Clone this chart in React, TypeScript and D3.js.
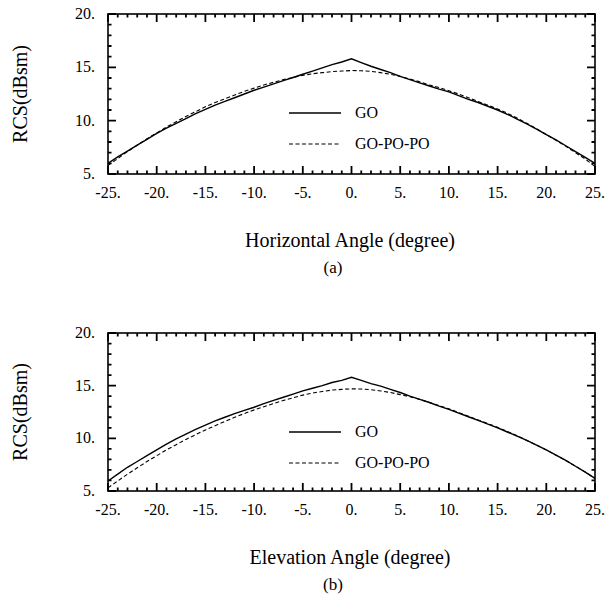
import React from "react";
import * as d3 from "d3";

const angles = [-25,-24,-23,-22,-21,-20,-19,-18,-17,-16,-15,-14,-13,-12,-11,-10,-9,-8,-7,-6,-5,-4,-3,-2,-1,0,1,2,3,4,5,6,7,8,9,10,11,12,13,14,15,16,17,18,19,20,21,22,23,24,25];

const horizGO = [6.0,6.6,7.15,7.7,8.25,8.8,9.3,9.75,10.2,10.65,11.05,11.45,11.8,12.15,12.5,12.85,13.15,13.45,13.75,14.05,14.35,14.65,14.95,15.25,15.5,15.8,15.45,15.1,14.8,14.5,14.15,13.85,13.55,13.25,12.95,12.7,12.35,12.0,11.7,11.35,11.0,10.6,10.15,9.7,9.2,8.7,8.2,7.65,7.1,6.55,6.0];
const horizGOPOPO = [5.8,6.45,7.1,7.7,8.3,8.85,9.4,9.9,10.4,10.85,11.3,11.7,12.05,12.4,12.75,13.05,13.35,13.6,13.85,14.05,14.25,14.4,14.5,14.6,14.65,14.7,14.68,14.62,14.5,14.35,14.15,13.9,13.65,13.35,13.1,12.8,12.5,12.15,11.8,11.45,11.1,10.7,10.25,9.75,9.25,8.7,8.15,7.6,7.0,6.4,5.7];

const elevGO = [5.95,6.6,7.25,7.8,8.35,8.9,9.45,9.95,10.4,10.85,11.25,11.65,12.0,12.35,12.65,12.95,13.3,13.6,13.9,14.2,14.5,14.75,15.0,15.3,15.5,15.8,15.5,15.2,14.95,14.65,14.35,14.0,13.7,13.4,13.05,12.75,12.4,12.05,11.7,11.35,11.0,10.6,10.2,9.8,9.35,8.9,8.4,7.9,7.35,6.8,6.2];
const elevGOPOPO = [5.3,5.95,6.6,7.2,7.8,8.35,8.9,9.4,9.9,10.35,10.8,11.2,11.6,12.0,12.35,12.7,13.0,13.3,13.6,13.85,14.1,14.3,14.45,14.58,14.65,14.7,14.68,14.62,14.5,14.35,14.15,13.95,13.7,13.4,13.1,12.8,12.45,12.1,11.75,11.4,11.05,10.65,10.25,9.8,9.35,8.9,8.4,7.9,7.35,6.8,6.2];

const xTickValues = [-25,-20,-15,-10,-5,0,5,10,15,20,25];
const xTickLabels = ["-25.","-20.","-15.","-10.","-5.","0.","5.","10.","15.","20.","25."];
const yTickValues = [5,10,15,20];
const yTickLabels = ["5.","10.","15.","20."];
const seriesNames = ["GO","GO-PO-PO"];
const yTitle = "RCS(dBsm)";

const FONT = "Liberation Serif";

type PanelProps = {
  top: number;
  bottom: number;
  go: number[];
  gopopo: number[];
  xTitle: string;
  caption: string;
};

function tickPath(
  x: d3.ScaleLinear<number, number>,
  y: d3.ScaleLinear<number, number>,
  left: number,
  right: number,
  top: number,
  bottom: number
) {
  const p = d3.path();
  d3.range(-25, 26, 1).forEach((v) => {
    const len = Math.abs(v) % 5 === 0 ? 8 : 3.5;
    p.moveTo(x(v), bottom);
    p.lineTo(x(v), bottom - len);
    p.moveTo(x(v), top);
    p.lineTo(x(v), top + len);
  });
  d3.range(5, 21, 1).forEach((v) => {
    const len = v % 5 === 0 ? 8 : 3.5;
    p.moveTo(left, y(v));
    p.lineTo(left + len, y(v));
    p.moveTo(right, y(v));
    p.lineTo(right - len, y(v));
  });
  return p.toString();
}

function Panel({ top, bottom, go, gopopo, xTitle, caption }: PanelProps) {
  const left = 108;
  const right = 595;
  const x = d3.scaleLinear().domain([-25, 25]).range([left, right]);
  const y = d3.scaleLinear().domain([5, 20]).range([bottom, top]);
  const lineGen = d3
    .line<number>()
    .x((_, i) => x(angles[i]))
    .y((d) => y(d));
  return (
    <g>
      <rect x={left} y={top} width={right - left} height={bottom - top} fill="none" stroke="#000" strokeWidth={1.6} />
      <path d={tickPath(x, y, left, right, top, bottom)} fill="none" stroke="#000" strokeWidth={1.8} />
      <path d={lineGen(go) || ""} fill="none" stroke="#000" strokeWidth={1.4} />
      <path d={lineGen(gopopo) || ""} fill="none" stroke="#000" strokeWidth={1.1} strokeDasharray="4,2.5" />
      {xTickValues.map((v, i) => (
        <text key={"xl" + v} x={x(v)} y={bottom + 24} textAnchor="middle" fontFamily={FONT} fontSize={16} fill="#000">
          {xTickLabels[i]}
        </text>
      ))}
      {yTickValues.map((v, i) => (
        <text key={"yl" + v} x={left - 13} y={y(v) + 5} textAnchor="end" fontFamily={FONT} fontSize={16} fill="#000">
          {yTickLabels[i]}
        </text>
      ))}
      <text
        transform={`translate(${27},${(top + bottom) / 2}) rotate(-90)`}
        textAnchor="middle"
        fontFamily={FONT}
        fontSize={20}
        fill="#000"
      >
        {yTitle}
      </text>
      <text x={350} y={bottom + 73} textAnchor="middle" fontFamily={FONT} fontSize={20} fill="#000">
        {xTitle}
      </text>
      <text x={333} y={bottom + 99} textAnchor="middle" fontFamily={FONT} fontSize={17} fill="#000">
        {caption}
      </text>
      <line x1={289} x2={341} y1={top + 99} y2={top + 99} stroke="#000" strokeWidth={1.4} />
      <text x={355} y={top + 104} fontFamily={FONT} fontSize={16} fill="#000">
        {seriesNames[0]}
      </text>
      <line x1={289} x2={341} y1={top + 130} y2={top + 130} stroke="#000" strokeWidth={1.1} strokeDasharray="4,2.5" />
      <text x={355} y={top + 135} fontFamily={FONT} fontSize={16} fill="#000">
        {seriesNames[1]}
      </text>
    </g>
  );
}

export default function App() {
  return (
    <svg width={610} height={613} style={{ position: "absolute", left: 0, top: 0, background: "#fff" }}>
      <rect x={0} y={0} width={610} height={613} fill="#fff" />
      <Panel top={14} bottom={174} go={horizGO} gopopo={horizGOPOPO} xTitle="Horizontal Angle (degree)" caption="(a)" />
      <Panel top={333} bottom={491} go={elevGO} gopopo={elevGOPOPO} xTitle="Elevation Angle (degree)" caption="(b)" />
    </svg>
  );
}
